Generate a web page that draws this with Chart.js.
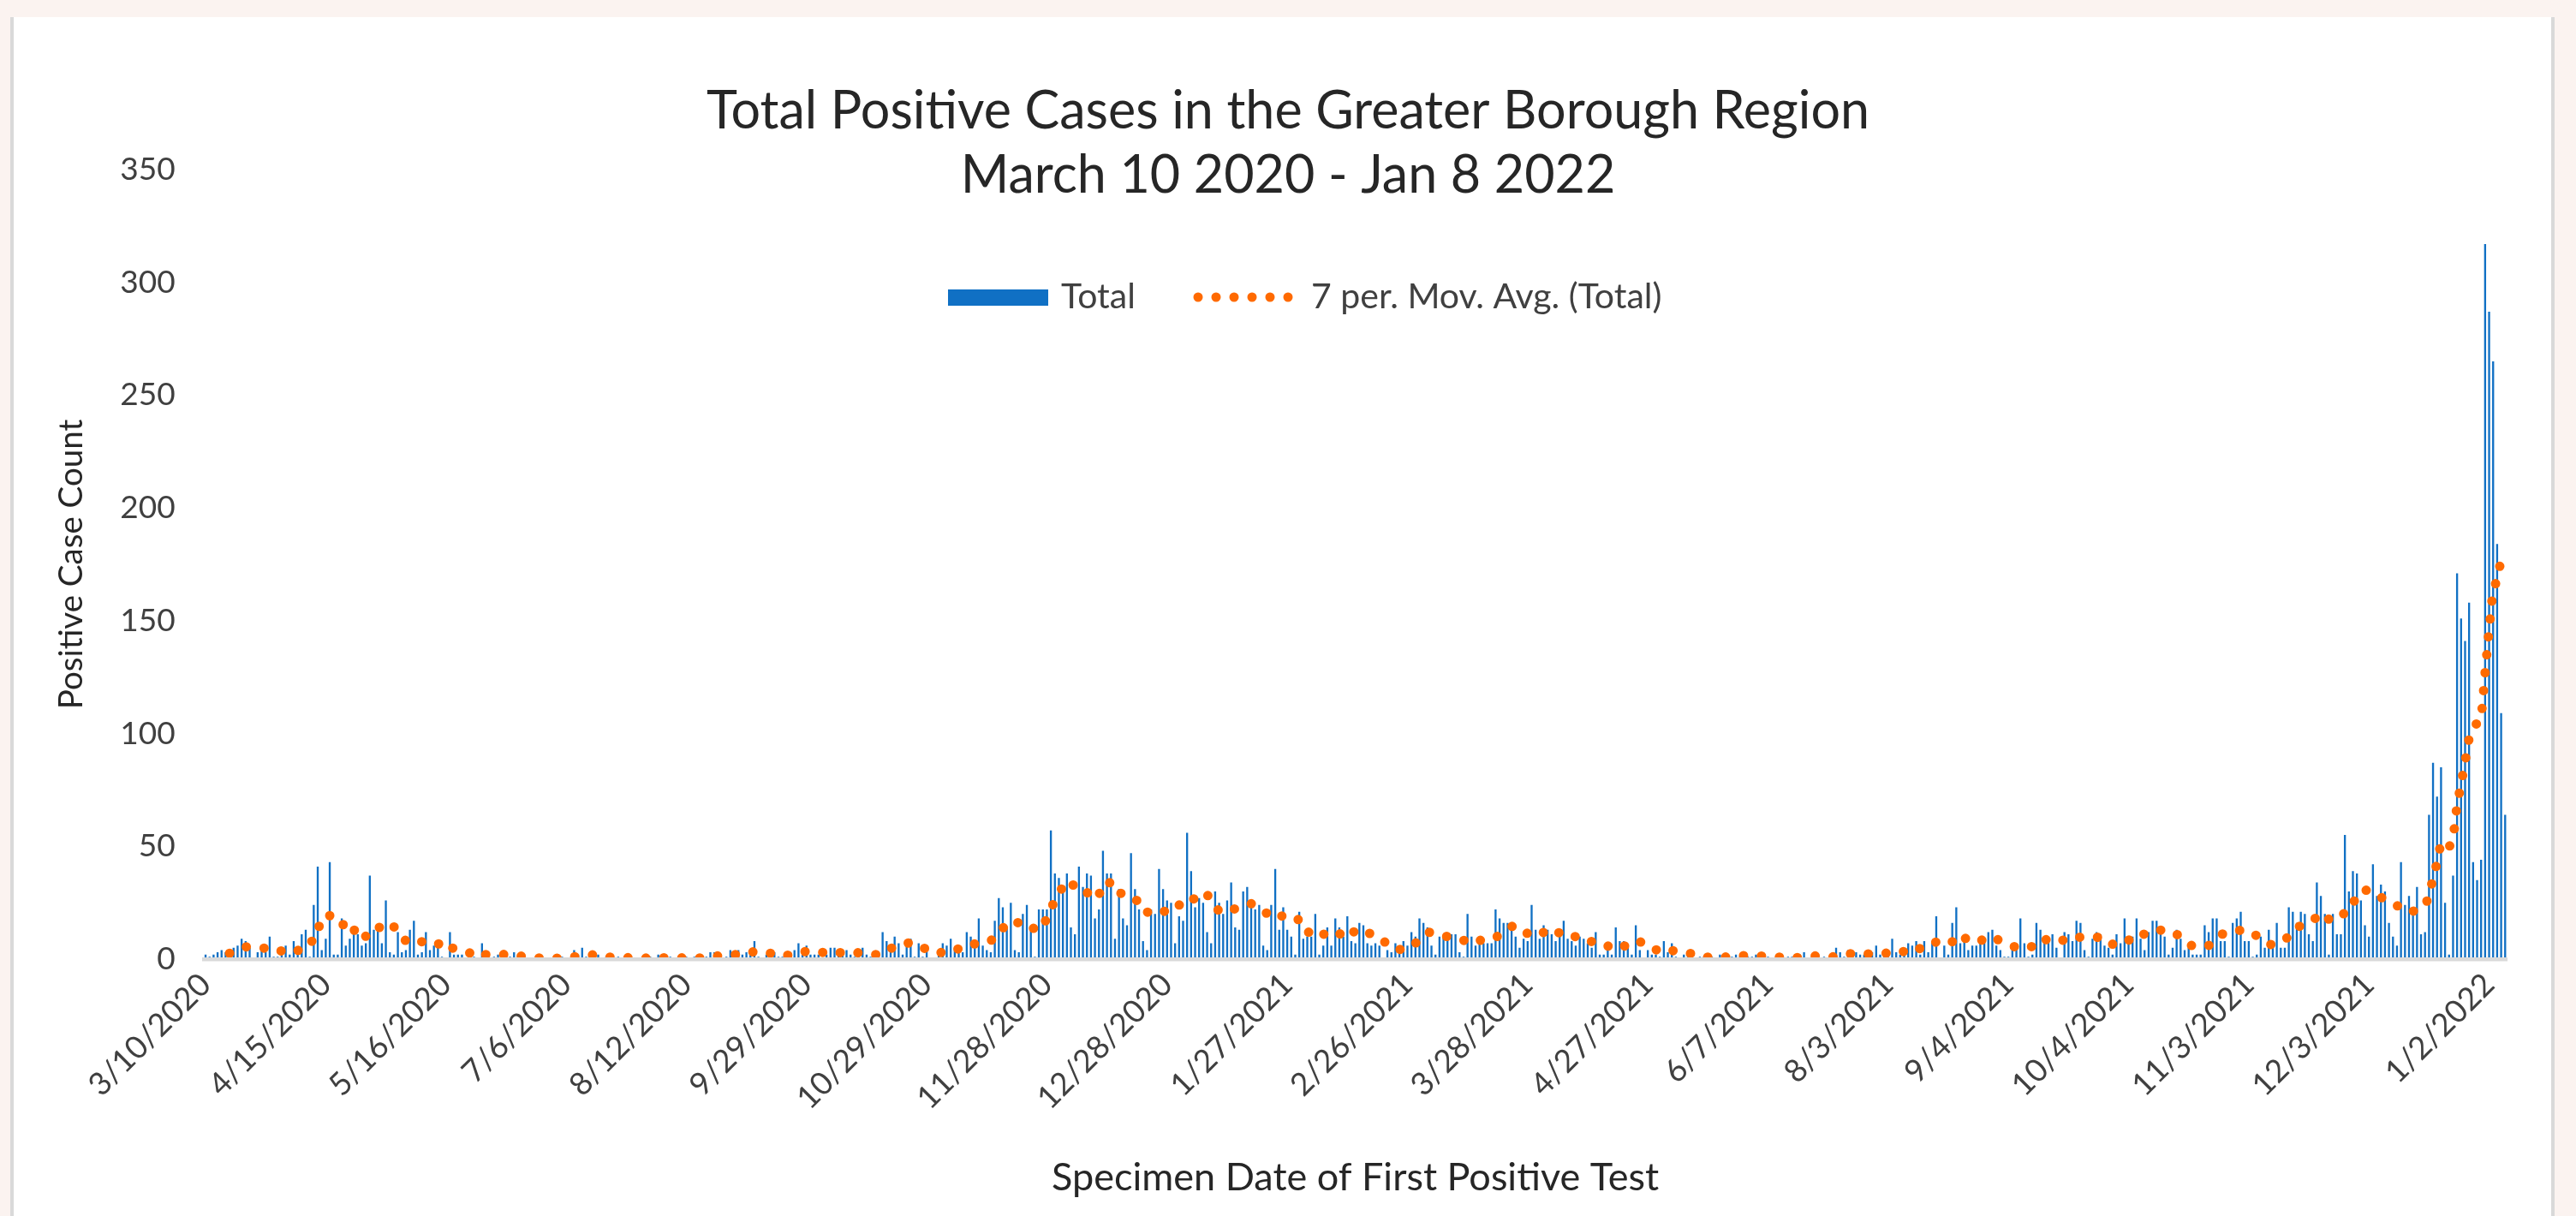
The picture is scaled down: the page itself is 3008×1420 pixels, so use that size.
<!DOCTYPE html>
<html><head><meta charset="utf-8">
<script src="https://cdn.jsdelivr.net/npm/chart.js@4.4.1/dist/chart.umd.min.js"></script>
<style>
html,body{margin:0;padding:0;width:3008px;height:1420px;overflow:hidden;background:#FBF3F0;}
#panel{position:absolute;left:12px;top:20px;width:2971px;height:1420px;background:#fff;border-left:4px solid #D9D9D9;border-right:4px solid #D9D9D9;box-sizing:border-box;}
#c{position:absolute;left:0;top:0;}
</style></head><body>
<div id="panel"></div>
<canvas id="c" width="3008" height="1420"></canvas>
<script>
// Tick labels shown every 30 categories (Excel category axis)
const tickLabels = ['3/10/2020','4/15/2020','5/16/2020','7/6/2020','8/12/2020','9/29/2020','10/29/2020',
  '11/28/2020','12/28/2020','1/27/2021','2/26/2021','3/28/2021','4/27/2021','6/7/2021','8/3/2021',
  '9/4/2021','10/4/2021','11/3/2021','12/3/2021','1/2/2022'];
const tickEvery = 30;

// Daily totals (one row per labelled 30-category block)
const totals = [
  2,1,2,3,4,3,3,5,6,9,8,5,0,3,5,3,10,1,1,3,6,2,8,5,11,13,1,24,41,4,
  9,43,2,2,18,6,9,14,11,6,7,37,13,13,7,26,3,2,12,3,4,13,17,2,3,12,4,6,6,1,
  0,12,2,2,2,0,1,1,0,7,3,0,1,2,1,1,1,3,1,0,0,0,0,0,1,0,0,1,1,1,
  0,0,4,2,5,1,1,0,2,0,1,1,0,1,0,1,1,0,0,0,1,1,0,2,0,0,1,0,0,1,
  1,0,1,0,1,1,3,3,1,0,1,4,2,4,2,3,2,8,1,0,2,2,3,1,1,2,3,4,7,2,
  6,2,2,2,0,2,5,5,4,2,4,2,1,1,5,2,1,2,2,12,8,5,10,7,2,7,9,1,7,1,
  6,0,0,2,7,6,9,5,3,3,12,10,5,18,6,4,3,17,27,23,14,25,4,3,20,24,14,1,22,22,
  22,57,38,36,31,38,14,11,41,32,38,37,18,22,48,38,38,9,31,18,15,47,31,22,8,4,22,20,40,31,
  26,25,7,19,17,56,39,23,27,25,12,7,30,25,20,26,34,14,13,30,32,23,22,24,6,4,24,40,13,23,
  13,10,2,21,9,10,10,20,2,6,14,6,18,14,10,19,8,7,16,15,7,6,7,6,0,4,3,7,3,8,
  6,12,10,18,16,14,6,2,10,10,11,11,11,3,1,20,10,6,8,7,7,7,22,18,16,16,15,10,5,9,
  8,24,13,9,15,13,11,8,10,17,9,8,6,10,9,7,5,12,2,2,4,2,14,8,8,5,2,15,4,0,
  4,2,2,1,8,3,7,1,0,2,1,1,0,1,1,0,1,0,2,1,2,1,2,1,2,1,1,2,1,1,
  1,0,1,0,0,1,1,1,2,3,0,1,2,0,1,0,2,5,3,1,4,2,3,2,2,2,3,6,2,2,
  1,9,3,2,4,7,6,8,2,8,3,8,19,0,6,2,16,23,7,9,4,6,6,9,9,12,13,6,4,1,
  1,5,5,18,7,1,2,16,13,7,9,11,5,0,12,11,8,17,16,4,1,9,12,11,6,5,2,11,7,18,
  10,10,18,9,4,12,17,17,13,10,2,5,13,9,4,5,2,2,2,15,12,18,18,8,8,1,16,18,21,8,
  8,1,2,10,5,13,5,16,5,5,23,21,16,21,20,11,8,34,28,20,2,20,11,11,55,30,39,38,26,15,
  10,42,28,33,30,16,10,6,43,24,28,20,32,11,12,64,87,72,85,25,2,37,171,151,141,158,43,35,44,317,
  287,265,184,109,64
];

const titleLines = ['Total Positive Cases in the Greater Borough Region', 'March 10 2020 - Jan 8 2022'];
const seriesName = 'Total';
const trendName = '7 per. Mov. Avg. (Total)';
const maPeriod = 7;

// categories: labelled every 30th position
const categories = totals.map((_, i) => (i % tickEvery === 0 && tickLabels[i / tickEvery]) ? tickLabels[i / tickEvery] : '');
// Excel "7 per. Mov. Avg." trendline computed from the series
const movAvg = totals.map((_, i) => {
  if (i < maPeriod - 1) return null;
  let s = 0; for (let k = i - maPeriod + 1; k <= i; k++) s += totals[k];
  return s / maPeriod;
});

const FONT = 'Lato';
const TXT = '#404040';
Chart.defaults.font.family = FONT;

const legendPlugin = {
  id: 'excelLegend',
  afterDatasetsDraw(chart) {
    const c = chart.ctx;
    const bar = chart.data.datasets[0], line = chart.data.datasets[1];
    const y = 347;
    c.save();
    c.fillStyle = bar.backgroundColor;
    c.fillRect(1107, 338, 117, 19);
    c.font = '41px ' + FONT;
    c.fillStyle = TXT; c.textBaseline = 'middle'; c.textAlign = 'left';
    c.fillText(bar.label, 1239, y);
    c.strokeStyle = line.borderColor; c.lineWidth = 11; c.lineCap = 'round';
    c.setLineDash([0, 21]);
    c.beginPath(); c.moveTo(1399, y); c.lineTo(1506, y); c.stroke();
    c.setLineDash([]);
    c.fillText(line.label, 1531, y);
    c.restore();
  }
};

new Chart(document.getElementById('c'), {
  type: 'bar',
  data: {
    labels: categories,
    datasets: [
      { type: 'bar', label: seriesName, data: totals, backgroundColor: '#1070C4',
        barPercentage: 0.5, categoryPercentage: 1.0, order: 1 },
      { type: 'line', label: trendName, data: movAvg, borderColor: '#FF6A00', borderWidth: 11,
        borderDash: [0, 21], borderCapStyle: 'round', borderJoinStyle: 'round', pointRadius: 0,
        tension: 0, fill: false, order: 0 }
    ]
  },
  options: {
    responsive: false, animation: false, devicePixelRatio: 1, events: [],
    layout: { padding: { left: 80.4, right: 80.4, top: 0, bottom: 0 } },
    plugins: {
      legend: { display: false },
      tooltip: { enabled: false },
      title: { display: true, text: titleLines, color: '#262626',
        font: { family: FONT, size: 61, weight: 'normal', lineHeight: 75 / 61 },
        padding: { top: 92.5, bottom: -44.5 } }
    },
    scales: {
      x: {
        type: 'category', offset: true,
        grid: { display: false, drawTicks: false },
        border: { display: true, color: '#D9D9D9', width: 4.4, z: 1 },
        ticks: { autoSkip: false, minRotation: 45, maxRotation: 45, color: TXT, padding: 8,
          font: { family: FONT, size: 37 },
          callback: (v, i) => categories[i] ? categories[i] : null },
        title: { display: true, text: 'Specimen Date of First Positive Test', color: '#262626',
          font: { family: FONT, size: 45, lineHeight: 1.2 }, padding: { top: 0, bottom: 18 } },
        afterFit: s => { s.height = 300; }
      },
      y: {
        min: 0, max: 350,
        grid: { display: false, drawTicks: false },
        border: { display: false },
        ticks: { stepSize: 50, color: TXT, padding: 33, font: { family: FONT, size: 37 } },
        title: { display: true, text: 'Positive Case Count', color: '#262626',
          font: { family: FONT, size: 38.5, lineHeight: 1.2 }, padding: { top: -19.5, bottom: 0 } },
        afterFit: s => { s.width = 237.7 - 80.4; }
      }
    }
  },
  plugins: [legendPlugin]
});
</script></body></html>
